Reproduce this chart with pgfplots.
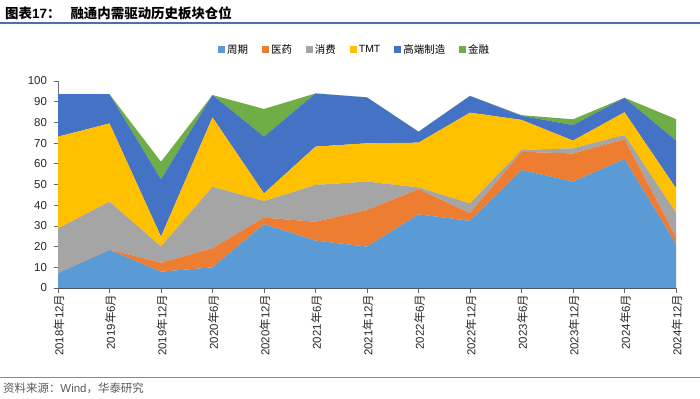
\documentclass[border=0pt]{standalone}
\usepackage{fontspec}
\setmainfont{Liberation Sans}
\newfontfamily\cjk{Noto Sans CJK SC}
\usepackage{pgfplots}
\pgfplotsset{compat=1.18}
\definecolor{cZQ}{HTML}{5B9BD5}
\definecolor{cYY}{HTML}{ED7D31}
\definecolor{cXF}{HTML}{A5A5A5}
\definecolor{cTMT}{HTML}{FFC000}
\definecolor{cGD}{HTML}{4472C4}
\definecolor{cJR}{HTML}{70AD47}
\definecolor{lineblue}{HTML}{4F6FA8}
\newcommand{\nian}{{\cjk 年}}
\newcommand{\yue}{{\cjk 月}}
\begin{document}
\begin{tikzpicture}[x=1bp,y=1bp]
\path[use as bounding box] (0,0) rectangle (700,398);
\node[anchor=west,inner sep=0] at (5,385) {\fontsize{13.5}{15}\selectfont\bfseries{\cjk 图表}17{\cjk ：}\hspace{10bp}{\cjk 融通内需驱动历史板块仓位}};
\draw[lineblue,line width=1.2bp] (0,375) -- (700,375);
\draw[lineblue!80,line width=0.8bp] (0,21) -- (700,21);
\node[anchor=west,inner sep=0,text=black!65] at (3,10) {\fontsize{11.5}{13}\selectfont{\cjk 资料来源：}Wind{\cjk ，华泰研究}};
\begin{axis}[
  at={(58bp,110bp)}, anchor=south west,
  scale only axis, width=618bp, height=207bp,
  xmin=0, xmax=12, ymin=0, ymax=100,
  stack plots=y,
  axis lines=left,
  axis line style={-, color=black!55, line width=0.8bp},
  x axis line style={color=black!70, line width=1bp},
  xtick={0,...,12},
  xticklabels={2018\nian12\yue,2019\nian6\yue,2019\nian12\yue,2020\nian6\yue,2020\nian12\yue,2021\nian6\yue,2021\nian12\yue,2022\nian6\yue,2022\nian12\yue,2023\nian6\yue,2023\nian12\yue,2024\nian6\yue,2024\nian12\yue},
  ytick={0,10,...,100},
  tick align=outside,
  major tick length=4.5bp,
  tick style={color=black!60, line width=0.7bp},
  xtick pos=bottom, ytick pos=left,
  /pgf/number format/assume math mode=true,
  tick label style={font=\fontsize{11.5}{13}\selectfont, text=black!85},
  xticklabel style={rotate=90, anchor=east, inner sep=2bp, yshift=-1bp},
  yticklabel style={xshift=-3bp},
  legend columns=6,
  legend style={at={(0.48,1.15)}, anchor=center, draw=none, fill=none,
    font=\fontsize{10.5}{12}\selectfont,
    /tikz/every even column/.append style={column sep=12bp}},
  legend image code/.code={\fill[#1,draw=none] (0bp,-3.5bp) rectangle (7bp,3.5bp);},
  clip=false,
]
\addplot[fill=cZQ, draw=none] coordinates {(0,7.1) (1,18.4) (2,7.9) (3,10.0) (4,30.8) (5,22.9) (6,20.0) (7,35.6) (8,32.4) (9,57.0) (10,51.4) (11,62.3) (12,21.2)} \closedcycle;
\addlegendentry{{\cjk 周期}}
\addplot[fill=cYY, draw=none] coordinates {(0,0) (1,0.2) (2,4.3) (3,9.2) (4,3.2) (5,9.1) (6,17.7) (7,12.1) (8,3.7) (9,8.8) (10,13.6) (11,9.5) (12,3.3)} \closedcycle;
\addlegendentry{{\cjk 医药}}
\addplot[fill=cXF, draw=none] coordinates {(0,21.7) (1,23.1) (2,7.8) (3,29.7) (4,8.0) (5,17.8) (6,13.7) (7,0.9) (8,4.8) (9,0.9) (10,2.5) (11,2.1) (12,11.9)} \closedcycle;
\addlegendentry{{\cjk 消费}}
\addplot[fill=cTMT, draw=none] coordinates {(0,44.3) (1,37.8) (2,4.8) (3,33.5) (4,3.7) (5,18.5) (6,18.5) (7,21.6) (8,43.8) (9,14.5) (10,3.7) (11,11.0) (12,11.8)} \closedcycle;
\addlegendentry{TMT}
\addplot[fill=cGD, draw=none] coordinates {(0,20.5) (1,14.1) (2,27.7) (3,10.8) (4,27.4) (5,25.7) (6,22.2) (7,5.3) (8,8.1) (9,2.0) (10,7.5) (11,7.0) (12,23.0)} \closedcycle;
\addlegendentry{{\cjk 高端制造}}
\addplot[fill=cJR, draw=none] coordinates {(0,0) (1,0) (2,8.5) (3,0) (4,13.4) (5,0) (6,0) (7,0) (8,0) (9,0.3) (10,2.8) (11,0) (12,10.4)} \closedcycle;
\addlegendentry{{\cjk 金融}}
\end{axis}
\end{tikzpicture}
\end{document}
